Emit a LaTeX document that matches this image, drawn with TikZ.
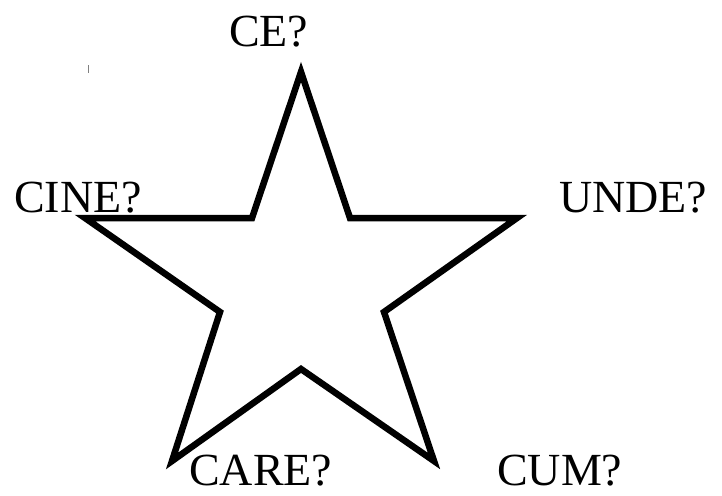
\documentclass[tikz,border=0pt]{standalone}
\usepackage{fontspec}
\setmainfont{Liberation Serif}
\begin{document}
\begin{tikzpicture}[x=1pt,y=-1pt,
  lbl/.style={inner sep=0pt,anchor=base west,text depth=0pt,font=\fontsize{46}{54}\selectfont},
  starline/.style={draw=black,line width=6.5pt,miter limit=20,line join=miter}]
\useasboundingbox (0,0) rectangle (722,495);
\draw[starline] (301,72) -- (350,218) -- (517,218) -- (384,312) -- (434,461)
  -- (301,369) -- (172,461) -- (220,312) -- (85,218) -- (252,218) -- cycle;
\draw[gray,line width=1.2pt] (88.5,65) -- (88.5,73);
\node[lbl] (ce) at (229,47) {CE?};
\node[lbl] (cine) at (14,212) {CINE?};
\node[lbl] (unde) at (559,212) {UNDE?};
\node[lbl] (care) at (189,485) {CARE?};
\node[lbl] (cum) at (497,485) {CUM?};
\end{tikzpicture}
\end{document}
